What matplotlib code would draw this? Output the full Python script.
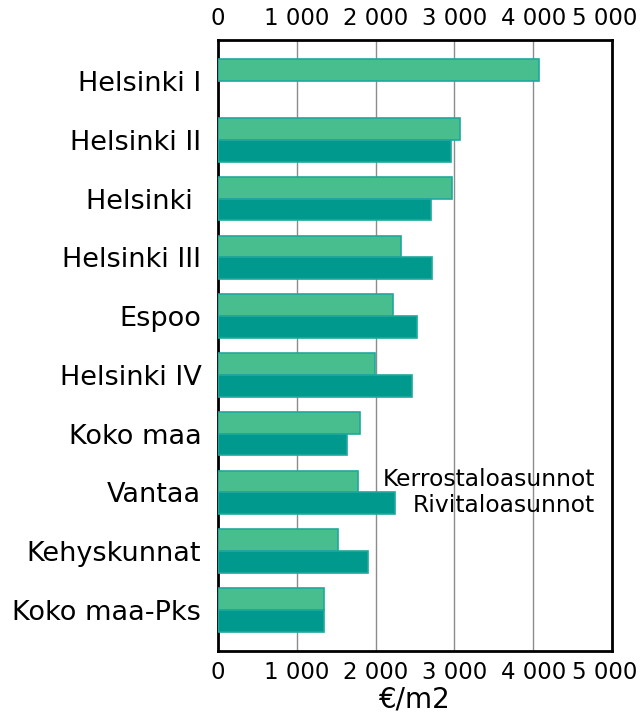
import numpy as np
import matplotlib
matplotlib.use('Agg')
import matplotlib.pyplot as plt
import matplotlib.transforms as mtransforms
from matplotlib.ticker import FuncFormatter

# data
areas = ['Helsinki I', 'Helsinki II', 'Helsinki ', 'Helsinki III', 'Espoo',
         'Helsinki IV', 'Koko maa', 'Vantaa', 'Kehyskunnat', 'Koko maa-Pks']
kerrostalo = [4070, 3070, 2970, 2320, 2220, 1990, 1800, 1780, 1520, 1340]
rivitalo = [0, 2960, 2700, 2715, 2525, 2460, 1640, 2245, 1900, 1350]
series_names = ['Kerrostaloasunnot', 'Rivitaloasunnot']

c_kerros = '#48bd8d'
c_rivi = '#00998e'
c_edge = '#1fa89c'

plt.rcParams['font.family'] = 'DejaVu Sans'

W, H = 643, 717
fig = plt.figure(figsize=(W / 100, H / 100), dpi=100)
ax = fig.add_axes([218 / W, (H - 651) / H, (612 - 218) / W, (651 - 40) / H])

y = np.arange(len(areas))
h = 0.37
ax.barh(y - h / 2, kerrostalo, height=h, color=c_kerros, edgecolor=c_edge, linewidth=1.2, zorder=3)
# no outline for empty bars
edges = [c_edge if v > 0 else 'none' for v in rivitalo]
ax.barh(y + h / 2, rivitalo, height=h, color=c_rivi, edgecolor=edges, linewidth=1.2, zorder=3)

ax.set_xlim(0, 5000)
ax.set_ylim(len(areas) - 0.3, -0.7)
ax.set_xticks(np.arange(0, 5001, 1000))
ax.xaxis.set_major_formatter(FuncFormatter(lambda v, p: f'{int(v):,}'.replace(',', ' ')))
ax.set_yticks(y)
ax.set_yticklabels(areas, fontsize=19.5)
ax.tick_params(axis='y', length=0, pad=12)
ax.tick_params(axis='x', length=0, pad=7, labelsize=16.5, top=True, labeltop=True)
ax.grid(axis='x', color='#8c8c8c', linewidth=1, zorder=0)
for s in ax.spines.values():
    s.set_linewidth(2)
    s.set_color('black')

# last tick label pulled left so it stays inside the figure
shift = mtransforms.ScaledTranslation(-7 / 100, 0, fig.dpi_scale_trans)
fig.canvas.draw()
ticks = ax.xaxis.get_major_ticks()
ticks[-1].label1.set_transform(ticks[-1].label1.get_transform() + shift)
ticks[-1].label2.set_transform(ticks[-1].label2.get_transform() + shift)

fig.text(415 / W, 1 - 700 / H, '€/m2', fontsize=20, ha='center', va='center')

# legend as plain text (no handles in the reference)
fig.text(595 / W, 1 - 480 / H, series_names[0], fontsize=16.8, ha='right', va='center')
fig.text(595 / W, 1 - 505 / H, series_names[1], fontsize=16.8, ha='right', va='center')

fig.savefig('out.png', dpi=100)
